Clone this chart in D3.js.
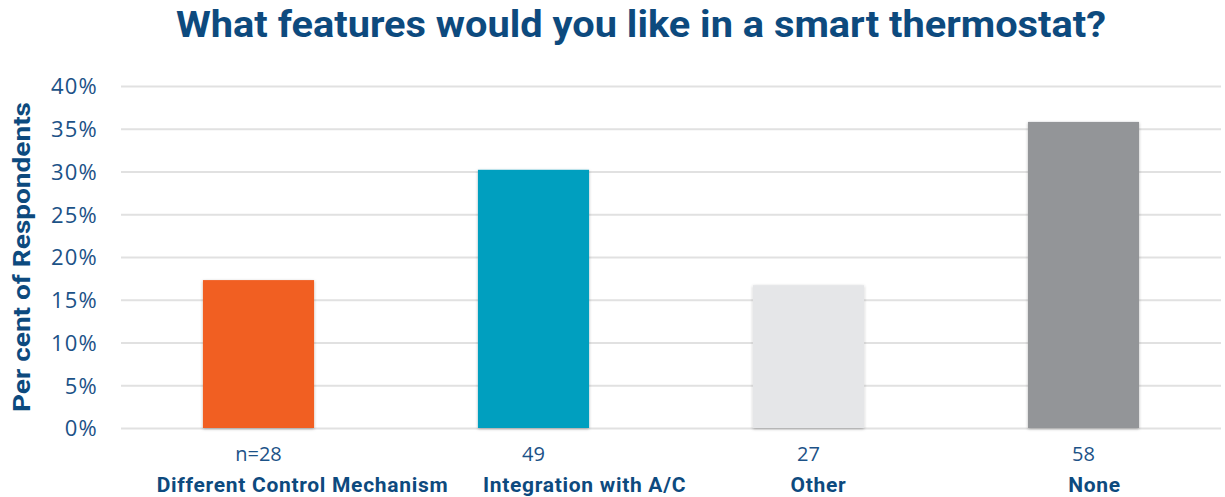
<!DOCTYPE html>
<html>
<head>
<meta charset="utf-8">
<script src="https://cdn.jsdelivr.net/npm/d3@7"></script>
<style>
  html, body { margin: 0; padding: 0; background: #ffffff; }
  svg { display: block; }
</style>
</head>
<body>
<svg id="chart" width="1225" height="497"></svg>
<script>
// Survey answers: preferred smart-thermostat features
const categories = ["Different Control Mechanism", "Integration with A/C", "Other", "None"];
const countLabels = ["n=28", "49", "27", "58"];
const percentValues = [17.3, 30.2, 16.7, 35.8];
const yTickValues = [0, 5, 10, 15, 20, 25, 30, 35, 40];
const yTickLabels = ["0%", "5%", "10%", "15%", "20%", "25%", "30%", "35%", "40%"];

const barColors = ["#f15f22", "#069fbf", "#e5e6e8", "#939598"];
const navy = "#0d4a7e";
const tickColor = "#1c5287";
// horizontal nudge of the category captions under each bar
const captionShift = [44, 51, 10, 11];

const svg = d3.select("#chart");
const plot = { left: 121, right: 1221, top: 86, bottom: 428 };

const x = d3.scaleBand()
  .domain(categories)
  .range([plot.left, plot.right])
  .paddingInner(0.596)
  .paddingOuter(0.298);

const y = d3.scaleLinear()
  .domain([0, 40])
  .range([plot.bottom, plot.top]);

// soft shadow behind bars
const defs = svg.append("defs");
const f = defs.append("filter").attr("id", "barShadow")
  .attr("x", "-10%").attr("y", "-10%").attr("width", "120%").attr("height", "120%");
f.append("feDropShadow")
  .attr("dx", 0).attr("dy", 1)
  .attr("stdDeviation", 1.6)
  .attr("flood-color", "#000").attr("flood-opacity", 0.3);

// title
svg.append("text")
  .attr("x", 641).attr("y", 37)
  .attr("text-anchor", "middle")
  .attr("font-family", "Roboto, 'Open Sans', sans-serif")
  .attr("font-weight", 700)
  .attr("font-size", 36)
  .attr("fill", navy)
  .attr("textLength", 930)
  .attr("lengthAdjust", "spacingAndGlyphs")
  .text("What features would you like in a smart thermostat?");

// gridlines and percentage ticks
const yAxis = d3.axisLeft(y)
  .tickValues(yTickValues)
  .tickSize(-(plot.right - plot.left))
  .tickFormat((d, i) => yTickLabels[i]);

const gAxis = svg.append("g")
  .attr("transform", `translate(${plot.left},0)`)
  .call(yAxis);
gAxis.select(".domain").remove();
gAxis.selectAll(".tick line")
  .attr("stroke", "#e1e1e1")
  .attr("stroke-width", 2);
gAxis.selectAll(".tick text")
  .attr("x", -23)
  .attr("dy", "0.36em")
  .attr("font-family", "'Open Sans', sans-serif")
  .attr("font-size", 22)
  .attr("letter-spacing", 1.2)
  .attr("fill", tickColor);

// y axis title
svg.append("text")
  .attr("transform", `translate(30, ${(plot.top + plot.bottom) / 2}) rotate(-90)`)
  .attr("text-anchor", "middle")
  .attr("font-family", "Roboto, sans-serif")
  .attr("font-weight", 700)
  .attr("font-size", 24)
  .attr("fill", navy)
  .attr("textLength", 310)
  .attr("lengthAdjust", "spacingAndGlyphs")
  .text("Per cent of Respondents");

// bars
svg.append("g").selectAll("rect")
  .data(categories)
  .join("rect")
  .attr("x", d => x(d))
  .attr("y", (d, i) => y(percentValues[i]))
  .attr("width", x.bandwidth())
  .attr("height", (d, i) => y(0) - y(percentValues[i]))
  .attr("fill", (d, i) => barColors[i])
  .attr("filter", "url(#barShadow)");

// respondent counts
svg.append("g").selectAll("text")
  .data(categories)
  .join("text")
  .attr("x", d => x(d) + x.bandwidth() / 2)
  .attr("y", 461)
  .attr("text-anchor", "middle")
  .attr("font-family", "'Open Sans', sans-serif")
  .attr("font-size", 20)
  .attr("fill", tickColor)
  .text((d, i) => countLabels[i]);

// category captions
svg.append("g").selectAll("text")
  .data(categories)
  .join("text")
  .attr("x", (d, i) => x(d) + x.bandwidth() / 2 + captionShift[i])
  .attr("y", 492)
  .attr("text-anchor", "middle")
  .attr("font-family", "Roboto, sans-serif")
  .attr("font-weight", 700)
  .attr("font-size", 21)
  .attr("letter-spacing", 0.7)
  .attr("fill", navy)
  .text(d => d);
</script>
</body>
</html>
